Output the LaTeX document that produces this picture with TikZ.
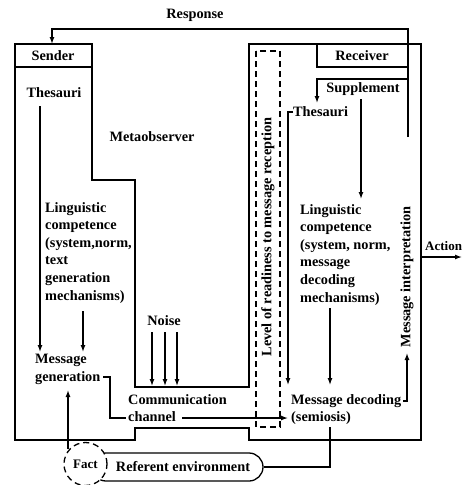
\documentclass[tikz,border=0pt]{standalone}
\usepackage{fontspec}
\setmainfont{Liberation Serif}
\usetikzlibrary{arrows.meta}
\begin{document}
\begin{tikzpicture}[x=1pt,y=-1pt,
  lbl/.style={inner sep=0pt, font=\fontsize{14.3}{17.6}\selectfont\bfseries},
  blk/.style={lbl, align=left, anchor=north west},
  wall/.style={line width=1.6pt, line join=miter},
  conn/.style={line width=1.3pt},
  arr/.style={conn, -{Latex[length=7pt,width=5pt]}},
  dashbox/.style={line width=1.3pt, dash pattern=on 6pt off 4pt},
]
\useasboundingbox (0,0) rectangle (464,485);

% outline of sender, metaobserver, channel and receiver
\draw[wall] (15,44) -- (92,44) -- (92,180) -- (135,180) -- (135,387) -- (249,387)
  -- (249,44) -- (421,44) -- (421,440) -- (249,440) -- (249,428) -- (135,428)
  -- (135,440) -- (15,440) -- cycle;
\draw[wall] (15,67) -- (92,67);
\draw[wall] (317,44) -- (317,67) -- (408,67);

% level of readiness
\draw[dashbox] (256,51) rectangle (280,427);

% texts
\node[lbl] (resp) at (195,15) {Response};
\node[lbl] (sender) at (53,55.5) {Sender};
\node[lbl] (receiver) at (362,55.5) {Receiver};
\node[lbl] (sthes) at (54,93) {Thesauri};
\node[lbl] (meta) at (152,137) {Metaobserver};
\node[lbl] (supp) at (363,89) {Supplement};
\node[lbl, anchor=west] (rthes) at (293,112) {Thesauri};
\node[blk] (sling) at (45,202) {Linguistic\\competence\\(system,norm,\\text\\generation\\mechanisms)};
\node[blk] (rling) at (300,204) {Linguistic\\competence\\(system, norm,\\message\\decoding\\mechanisms)};
\node[lbl] (noise) at (164,321) {Noise};
\node[blk] (sgen) at (35,354) {Message\\generation};
\node[blk] (chan) at (128,394) {Communication\\channel};
\node[blk] (dec) at (291,394) {Message decoding\\(semiosis)};
\node[lbl, anchor=west, font=\fontsize{13}{15}\selectfont\bfseries] (action) at (425,246) {Action};
\node[lbl, rotate=90] (level) at (268,237) {Level of readiness to message reception};
\node[lbl, rotate=90] (interp) at (407,277) {Message interpretation};

% referent environment and fact
\node[draw, conn, rounded corners=14pt, minimum width=171pt, minimum height=28pt,
  inner sep=0pt] (refbox) at (177.5,467) {};
\node[lbl] (ref) at (183,467) {Referent environment};
\node[draw, conn, dashbox, circle, fill=white, minimum size=43pt, inner sep=0pt,
  font=\fontsize{13}{17.5}\selectfont\bfseries] (fact) at (85.5,464) {Fact};

% named connector points
\coordinate (respStart) at (408,137);
\coordinate (senderTop) at (52,44);
\coordinate (suppStart) at (408,79);
\coordinate (suppEnd) at (317,103);

% connectors
\draw[arr] (respStart) -- (408,29) -- (52,29) -- (senderTop);
\draw[arr] (suppStart) -- (317,79) -- (suppEnd);
\draw[arr] (361,99) -- (361,199);
\draw[arr] (rthes.west) -- (288,112) -- (288,385);
\draw[arr] (330,308) -- (330,385);
\draw[arr] (40,106) -- (40,352);
\draw[arr] (83,311) -- (83,352);
\draw[arr] (152,332) -- (152,386);
\draw[arr] (165,332) -- (165,386);
\draw[arr] (177,332) -- (177,386);
\draw[conn] (103,377) -- (110,377) -- (110,418) -- (126,418);
\draw[arr] (182,418) -- (288,418);
\draw[arr] (403,401) -- (407,401) -- (407,353);
\draw[arr] (421,257) -- (462,257);
\draw[arr] (68,449) -- (68,390);
\draw[conn] (refbox.east) -- (330,467) -- (330,427);
\end{tikzpicture}
\end{document}
